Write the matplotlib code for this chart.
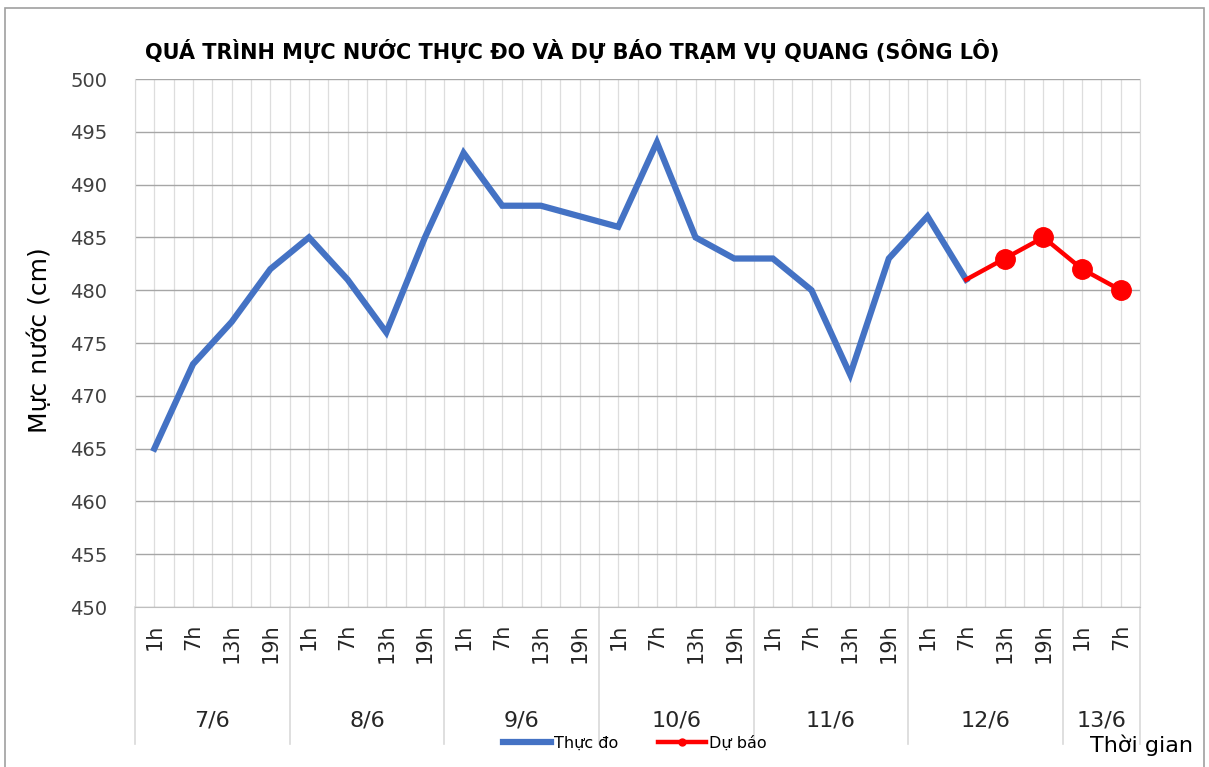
import matplotlib
matplotlib.use("Agg")
import matplotlib.pyplot as plt
from matplotlib.patches import Rectangle
from matplotlib.lines import Line2D
import matplotlib.transforms as mtransforms
import numpy as np

# ---------------------------------------------------------------
# data
# ---------------------------------------------------------------
days = ['7/6', '8/6', '9/6', '10/6', '11/6', '12/6', '13/6']
hours_per_day = [['1h', '7h', '13h', '19h']] * 6 + [['1h', '7h']]
hour_labels = [h for d in hours_per_day for h in d]

thuc_do = [465, 473, 477, 482,
           485, 481, 476, 485,
           493, 488, 488, 487,
           486, 494, 485, 483,
           483, 480, 472, 483,
           487, 481]
du_bao = [481, 483, 485, 482, 480]
du_bao_start = 21          # 12/6 7h

narrow = ['DejaVu Sans']

fig = plt.figure(figsize=(12.09, 7.67), dpi=100)
ax = fig.add_axes([0.1117, 0.2086, 0.8313, 0.6884])

x_obs = np.arange(len(thuc_do))
x_fc = np.arange(du_bao_start, du_bao_start + len(du_bao))

ax.plot(x_obs, thuc_do, color='#4472C4', lw=4.5, solid_joinstyle='miter', zorder=3)
ax.plot(x_fc, du_bao, color='#FF0000', lw=3.2, zorder=4)
ax.plot(x_fc[1:], du_bao[1:], 'o', color='#FF0000', ms=14, zorder=5)

n = len(hour_labels)
ax.set_xlim(-0.5, n - 0.5)
ax.set_ylim(450, 500)
ax.set_yticks(np.arange(450, 501, 5))
ax.set_xticks(np.arange(n))
ax.set_xticklabels(hour_labels, rotation=90, fontsize=15, family='DejaVu Sans',
                   color='#262626')
ax.set_xticks(np.arange(n + 1) - 0.5, minor=True)
ax.tick_params(axis='both', which='both', length=0)
ax.tick_params(axis='x', pad=12)
ax.tick_params(axis='y', pad=20)
for lab in ax.get_yticklabels():
    lab.set_family(narrow)
    lab.set_fontsize(14)
    lab.set_color('#404040')

ax.grid(axis='y', color='#A6A6A6', lw=1.0)
ax.grid(axis='x', which='both', color='#DDDDDD', lw=0.9)
ax.set_axisbelow(True)
for s in ['left', 'right']:
    ax.spines[s].set_color('#D9D9D9')
ax.spines['top'].set_visible(False)
ax.spines['bottom'].set_color('#BFBFBF')

# day groups under the hour labels
trans = mtransforms.blended_transform_factory(ax.transData, ax.transAxes)
edges = np.concatenate([[0], np.cumsum([len(d) for d in hours_per_day])]) - 0.5
for e in edges:
    ax.plot([e, e], [0, -0.26], color='#D9D9D9', lw=1.2, transform=trans, clip_on=False)
for i, d in enumerate(days):
    ax.text((edges[i] + edges[i + 1]) / 2, -0.215, d, transform=trans,
            ha='center', va='center', fontsize=16, family=narrow, color='#262626')

ax.set_ylabel('Mực nước (cm)', fontsize=18)
ax.yaxis.set_label_coords(-0.083, 0.505)

fig.text(0.473, 0.934, 'QUÁ TRÌNH MỰC NƯỚC THỰC ĐO VÀ DỰ BÁO TRẠM VỤ QUANG (SÔNG LÔ)',
         ha='center', va='center', fontsize=15, fontweight='bold', family=narrow)
fig.text(0.944, 0.028, 'Thời gian', ha='center', va='center', fontsize=16, family=narrow)

handles = [Line2D([], [], color='#4472C4', lw=4.5),
           Line2D([], [], color='#FF0000', lw=3.2, marker='o', ms=5)]
fig.legend(handles, ['Thực đo', 'Dự báo'], loc='center', bbox_to_anchor=(0.525, 0.031),
           ncol=2, frameon=False, prop={'family': narrow, 'size': 11.5},
           handlelength=3.0, handletextpad=0.2, columnspacing=2.5)

fig.add_artist(Rectangle((0.004, -0.01), 0.992, 0.999, transform=fig.transFigure,
                         fill=False, edgecolor='#A0A0A0', lw=1.2))

fig.savefig('out.png', dpi=100)
